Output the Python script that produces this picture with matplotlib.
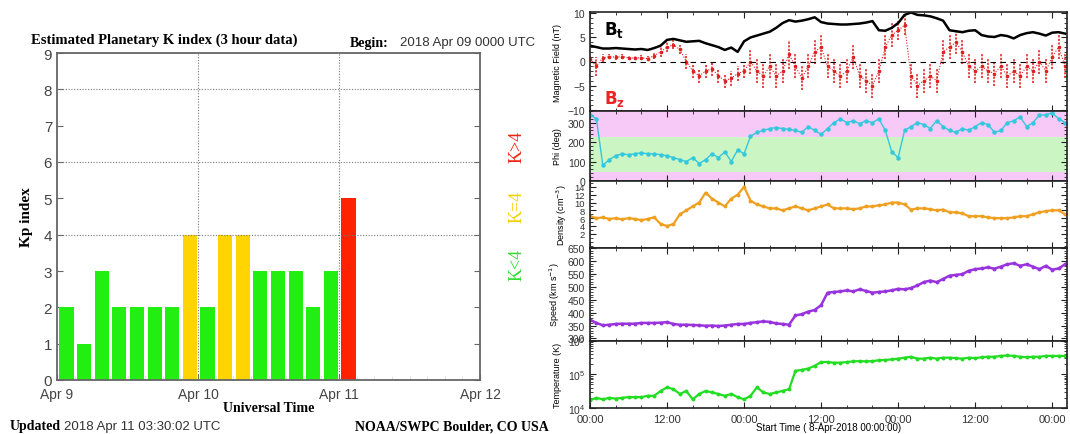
import numpy as np
import matplotlib
matplotlib.use("Agg")
import matplotlib.pyplot as plt
from matplotlib.ticker import MultipleLocator, FixedLocator, NullFormatter, LogLocator

# ---------------- data: Kp chart ----------------
kp_days = ["Apr 9", "Apr 10", "Apr 11", "Apr 12"]
kp_values = [2, 1, 3, 2, 2, 2, 2, 4, 2, 4, 4, 3, 3, 3, 2, 3, 5]

# ---------------- data: solar wind (hourly readings from 8-Apr-2018 00:00) ----------------
bt = [3.3, 3.0, 2.7, 2.7, 2.8, 2.7, 2.6, 2.5, 2.6, 2.4, 2.8, 3.3, 4.5, 4.7, 4.4, 4.1, 4.2, 4.3, 3.8, 3.4,
      3.0, 2.4, 2.9, 2.0, 4.2, 5.0, 5.4, 5.8, 6.2, 7.0, 8.0, 8.6, 8.3, 8.5, 8.8, 9.2, 8.2, 7.9, 7.8, 7.7,
      7.7, 7.8, 7.9, 8.1, 8.4, 6.5, 6.4, 7.0, 8.0, 9.7, 10.2, 9.7, 9.6, 9.4, 9.0, 8.5, 6.5, 6.3, 6.1, 6.4,
      6.5, 5.5, 5.2, 5.1, 5.5, 5.3, 4.8, 5.5, 5.9, 6.1, 5.8, 5.4, 6.0, 6.1, 5.8]
bz = [0.5, -1.0, 0.8, 1.0, 0.9, 1.0, 0.8, 0.7, 0.8, 0.6, 1.2, 2.0, 3.0, 3.5, 2.5, 0.0, -2.0, -3.0, -2.0, -1.5,
      -3.0, -4.0, -3.5, -2.5, -2.0, 0.0, -2.0, -3.0, -1.0, -3.0, -2.0, 1.5, -1.0, -3.5, -1.0, 2.0, 3.0, -1.0, -2.0, -3.0,
      -2.0, 1.0, -3.0, -4.0, -5.0, -2.0, 3.0, 5.5, 6.5, 7.5, -3.0, -5.0, -4.0, -3.0, -4.0, 2.0, 3.0, 4.0, 2.0, -1.0,
      -2.0, -1.0, -2.0, -2.5, -1.0, -3.0, -2.0, -3.0, -1.0, -2.0, 0.0, -2.0, 1.0, 3.0, -1.0]
bz_spread = [0.6, 2.0, 0.8, 0.5, 0.5, 0.5, 0.4, 0.4, 0.5, 0.5, 0.6, 1.0, 1.0, 1.0, 1.0, 1.5, 1.5, 1.5, 1.5, 1.5,
             1.5, 1.5, 1.5, 1.5, 1.5, 2.5, 2.5, 2.5, 2.5, 2.5, 2.5, 3.0, 2.5, 2.5, 2.5, 2.5, 2.5, 2.5, 2.5, 2.5,
             2.5, 2.5, 2.5, 2.5, 2.5, 2.5, 2.5, 2.5, 2.0, 2.0, 2.5, 2.5, 2.5, 2.5, 2.5, 2.5, 2.5, 2.5, 2.5, 2.5,
             2.5, 2.5, 2.5, 2.5, 2.5, 2.5, 2.5, 2.5, 2.5, 2.5, 2.5, 2.5, 2.5, 2.5, 2.5]
phi = [340, 320, 80, 110, 130, 140, 135, 140, 145, 140, 140, 135, 130, 120, 110, 100, 120, 90, 110, 140,
       120, 150, 100, 160, 140, 230, 250, 260, 270, 275, 270, 265, 260, 250, 280, 260, 240, 270, 300, 320,
       300, 310, 295, 310, 300, 320, 260, 150, 120, 260, 280, 300, 290, 270, 310, 280, 260, 250, 270, 260,
       280, 300, 290, 250, 260, 300, 310, 330, 280, 300, 340, 340, 350, 320, 300]
density = [6.5, 6.0, 6.2, 5.8, 6.0, 5.7, 6.0, 5.8, 5.5, 5.8, 6.2, 4.5, 4.0, 4.5, 7.0, 8.0, 9.0, 10.0, 12.5, 11.0,
           10.0, 9.0, 11.0, 12.0, 14.0, 10.5, 9.5, 9.0, 8.5, 8.5, 8.0, 8.5, 9.0, 8.5, 8.0, 8.5, 9.0, 9.5, 8.5, 8.5,
           8.5, 8.3, 8.5, 9.0, 9.0, 9.3, 9.5, 10.0, 10.0, 9.5, 8.2, 8.5, 8.5, 8.3, 8.0, 8.2, 7.5, 7.5, 7.2, 6.5,
           6.5, 6.5, 6.2, 6.0, 6.0, 6.0, 6.2, 6.5, 6.5, 7.0, 7.5, 7.8, 8.0, 8.0, 7.0]
speed = [372, 360, 351, 353, 356, 357, 357, 357, 360, 360, 360, 361, 363, 356, 353, 353, 352, 351, 349, 350,
         348, 350, 353, 356, 356, 360, 363, 366, 364, 358, 356, 353, 389, 394, 404, 410, 429, 477, 480, 482,
         486, 482, 490, 484, 477, 480, 482, 486, 492, 490, 495, 505, 518, 524, 518, 530, 543, 546, 549, 562,
         568, 571, 575, 570, 578, 587, 591, 581, 587, 578, 568, 581, 566, 571, 587]
temperature = [1.7e4, 2.0e4, 1.8e4, 2.0e4, 1.9e4, 2.0e4, 2.1e4, 2.1e4, 2.1e4, 2.3e4, 2.3e4, 3.2e4, 4.1e4, 3.6e4, 2.6e4, 3.2e4, 1.8e4, 2.6e4, 3.2e4, 2.9e4,
               2.6e4, 2.3e4, 2.6e4, 2.1e4, 1.8e4, 2.3e4, 4.1e4, 2.9e4, 2.6e4, 2.9e4, 3.2e4, 3.6e4, 1.26e5, 1.35e5, 1.48e5, 1.78e5, 2.3e5, 2.3e5, 2.2e5, 2.2e5,
               2.3e5, 2.4e5, 2.45e5, 2.4e5, 2.45e5, 2.6e5, 2.65e5, 2.75e5, 2.9e5, 3.1e5, 3.3e5, 2.9e5, 2.9e5, 3.1e5, 2.9e5, 3.1e5, 3.1e5, 3.0e5, 2.9e5, 3.1e5,
               3.0e5, 3.2e5, 3.3e5, 3.3e5, 3.5e5, 3.6e5, 3.5e5, 3.3e5, 3.2e5, 3.3e5, 3.3e5, 3.5e5, 3.5e5, 3.5e5, 3.5e5]
time_labels = ["00:00", "12:00", "00:00", "12:00", "00:00", "12:00", "00:00"]

hours = np.arange(len(bt))

W, H = 1070, 435
fig = plt.figure(figsize=(W / 100, H / 100), dpi=100)


def add_ax(x0, y0, x1, y1):
    return fig.add_axes([x0 / W, 1 - y1 / H, (x1 - x0) / W, (y1 - y0) / H])


SERIF = ["Liberation Serif", "DejaVu Serif"]
SANS = ["Liberation Sans", "DejaVu Sans"]

# ================= Kp chart =================
ax = add_ax(57, 54, 480, 381)
slot = 1 / 8
colors = []
for v in kp_values:
    if v < 4:
        colors.append("#22ee11")
    elif v == 4:
        colors.append("#ffd400")
    else:
        colors.append("#ff2200")
lefts = [i * slot + 0.14 * slot for i in range(len(kp_values))]
ax.bar(lefts, kp_values, width=0.8 * slot, align="edge", color=colors, zorder=2)
ax.set_xlim(0, 3)
ax.set_ylim(0, 9)
for gy in [4, 6, 8]:
    ax.axhline(gy, color="#777777", ls=(0, (1, 1.5)), lw=0.8, zorder=3)
for gx in [1, 2]:
    ax.axvline(gx, color="#777777", ls=(0, (1, 1.5)), lw=0.8, zorder=3)
ax.set_xticks(range(4))
ax.set_xticklabels(kp_days, family=SANS, fontsize=10, color="#444444")
ax.set_yticks(range(10))
ax.set_yticklabels([str(i) for i in range(10)], family=SANS, fontsize=11, color="#444444")
ax.xaxis.set_minor_locator(MultipleLocator(slot))
ax.tick_params(axis="both", which="major", direction="in", length=4, color="#666666", right=True, top=False)
ax.tick_params(axis="x", which="major", pad=5)
ax.tick_params(axis="x", which="minor", direction="in", length=3, color="#dddddd")
for s in ax.spines.values():
    s.set_color("#666666")
    s.set_linewidth(1.3)
ax.set_ylabel("Kp index", family=SERIF, fontweight="bold", fontsize=11, labelpad=8)
ax.set_xlabel("Universal Time", family=SERIF, fontweight="bold", fontsize=10, labelpad=0)

fig.text(31 / W, 1 - 40 / H, "Estimated Planetary K index (3 hour data)", family=SERIF,
         fontweight="bold", fontsize=10.5, va="center")
fig.text(350 / W, 1 - 43 / H, "Begin:", family=SERIF, fontweight="bold", fontsize=10, va="center")
fig.text(400 / W, 1 - 43 / H, "2018 Apr 09 0000 UTC", family=SANS, fontsize=9.5, va="center", color="#333333")
fig.text(10 / W, 1 - 427 / H, "Updated", family=SERIF, fontweight="bold", fontsize=10, va="center")
fig.text(64 / W, 1 - 427 / H, "2018 Apr 11 03:30:02 UTC", family=SANS, fontsize=9.5, va="center", color="#333333")
fig.text(355 / W, 1 - 427 / H, "NOAA/SWPC Boulder, CO USA", family=SERIF, fontweight="bold", fontsize=10, va="center")
fig.text(517 / W, 1 - 147 / H, "K>4", family=SERIF, fontsize=13, color="#ee2211", rotation=90, ha="center", va="center")
fig.text(517 / W, 1 - 207 / H, "K=4", family=SERIF, fontsize=13, color="#f5d000", rotation=90, ha="center", va="center")
fig.text(517 / W, 1 - 265 / H, "K<4", family=SERIF, fontsize=13, color="#33dd33", rotation=90, ha="center", va="center")

# ================= solar wind panels =================
XL, XR = 590, 1067
bounds = [13, 112, 182, 248.5, 341.5, 409]
axes = []
for i in range(5):
    a = add_ax(XL, bounds[i], XR, bounds[i + 1])
    a.set_xlim(0, 74.3)
    a.xaxis.set_major_locator(MultipleLocator(12))
    a.xaxis.set_minor_locator(MultipleLocator(4))
    a.tick_params(axis="both", which="both", direction="in", top=True, right=True, color="#222222",
                  labelsize=7.5, labelcolor="#333333")
    a.tick_params(which="major", length=4, width=0.8)
    a.tick_params(which="minor", length=2.5, width=0.6)
    if i < 4:
        a.xaxis.set_major_formatter(NullFormatter())
    for s in a.spines.values():
        s.set_linewidth(1.2)
        s.set_color("#222222")
    axes.append(a)

# Panel 1: magnetic field
a = axes[0]
lo = [c - s for c, s in zip(bz, bz_spread)]
hi = [c + s for c, s in zip(bz, bz_spread)]
a.vlines(hours, lo, hi, color="#e02020", lw=1.3, linestyles=(0, (1.2, 0.8)), alpha=0.9)
a.plot(hours, bz, color="#e02020", lw=0.8, marker="o", ms=1.6, ls=(0, (1, 1.5)))
a.plot(hours, bt, color="black", lw=1.8)
a.axhline(0, color="black", ls=(0, (5, 4)), lw=0.8)
a.set_ylim(-10.3, 10.3)
a.set_yticks([-10, -5, 0, 5, 10])
a.set_yticklabels(["\u221210", "\u22125", "0", "5", "10"])
a.yaxis.set_minor_locator(MultipleLocator(1))
a.set_ylabel("Magnetic Field (nT)", fontsize=6.5, family=SANS, labelpad=4)
a.text(0.03, 0.93, r"$\mathbf{B_t}$", transform=a.transAxes, fontsize=12, va="top", color="black")
a.text(0.03, 0.03, r"$\mathbf{B_z}$", transform=a.transAxes, fontsize=12, va="bottom", color="#ee2222")

# Panel 2: phi
a = axes[1]
a.axhspan(0, 45, color="#f7c9f7", lw=0)
a.axhspan(45, 225, color="#ccf5c4", lw=0)
a.axhspan(225, 360, color="#f7c9f7", lw=0)
a.plot(hours, phi, color="#33c8dd", lw=1.0, marker="o", ms=2.2)
a.set_ylim(0, 360)
a.set_yticks([0, 100, 200, 300])
a.yaxis.set_minor_locator(MultipleLocator(20))
a.set_ylabel("Phi (deg)", fontsize=6.5, family=SANS, labelpad=4)

# Panel 3: density
a = axes[2]
a.plot(hours, density, color="#f0a020", lw=1.6, marker="o", ms=1.8)
a.set_ylim(-1.5, 15.5)
a.set_yticks([2, 4, 6, 8, 10, 12, 14])
a.yaxis.set_minor_locator(MultipleLocator(1))
a.tick_params(axis="y", labelsize=6.8)
a.set_ylabel("Density (cm$^{-3}$)", fontsize=6.5, family=SANS, labelpad=4)

# Panel 4: speed
a = axes[3]
a.plot(hours, speed, color="#9933dd", lw=1.8, marker="o", ms=1.8)
a.set_ylim(292, 652)
a.set_yticks([300, 350, 400, 450, 500, 550, 600, 650])
a.yaxis.set_minor_locator(MultipleLocator(10))
a.set_ylabel("Speed (km s$^{-1}$)", fontsize=6.5, family=SANS, labelpad=4)

# Panel 5: temperature
a = axes[4]
a.semilogy(hours, temperature, color="#22dd22", lw=1.6, marker="o", ms=1.8)
a.set_ylim(1e4, 1e6)
a.yaxis.set_major_locator(FixedLocator([1e4, 1e5, 1e6]))
a.yaxis.set_minor_locator(LogLocator(subs=np.arange(2, 10)))
a.set_ylabel("Temperature (K)", fontsize=6.5, family=SANS, labelpad=4)
a.set_xticks([0, 12, 24, 36, 48, 60, 72])
a.set_xticklabels(time_labels, family=SANS, fontsize=8, color="#333333")
a.tick_params(axis="x", pad=4)
a.set_xlabel("Start Time ( 8-Apr-2018 00:00:00)", fontsize=7, family=SANS, labelpad=-1)

for a in axes:
    for lab in a.get_yticklabels():
        lab.set_family(SANS)

fig.savefig("out.png", dpi=100)
